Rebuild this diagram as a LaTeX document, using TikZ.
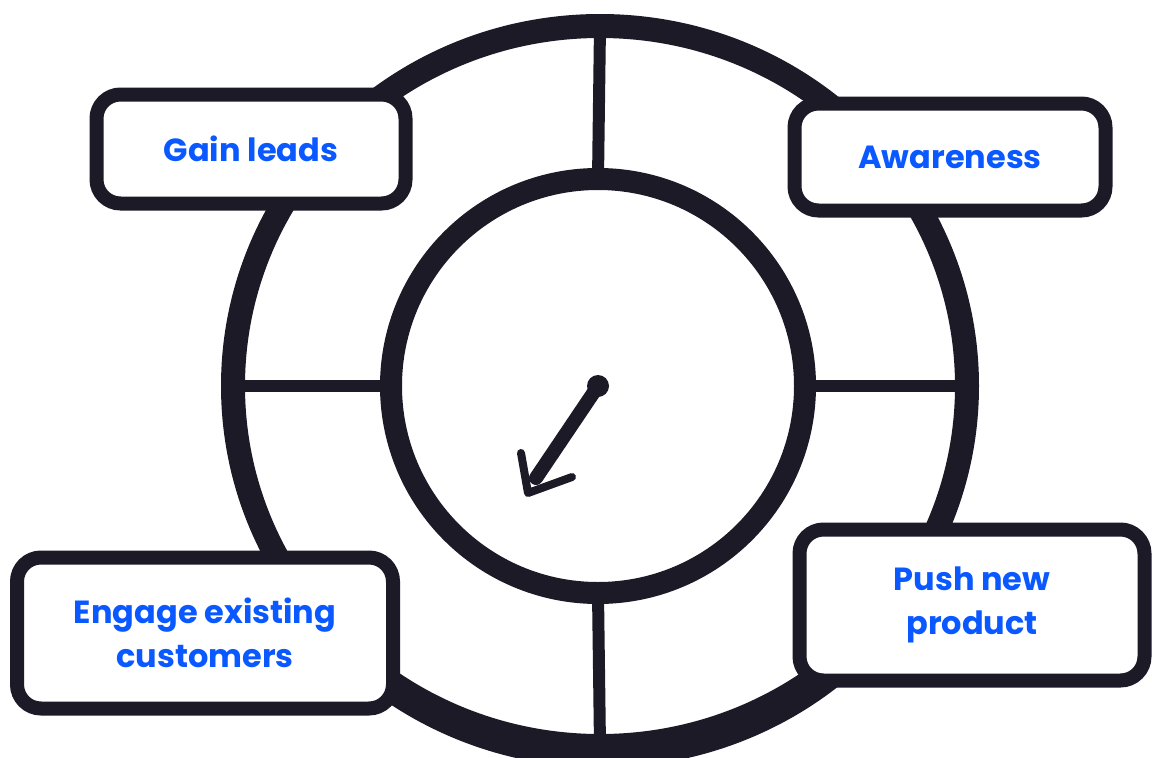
\documentclass[tikz,border=0pt]{standalone}
\usepackage{fontspec}
\setmainfont{Poppins}
\usetikzlibrary{shapes.geometric}
\definecolor{ink}{HTML}{1B1A26}
\definecolor{label}{HTML}{0A58FF}
\begin{document}
\begin{tikzpicture}[x=1pt,y=-1pt,
  ring/.style={draw=ink, line width=#1, inner sep=0pt, outer sep=0pt},
  spoke/.style={draw=ink, line width=12pt},
  stage/.style={draw=ink, fill=white, line width=14pt, rounded corners=24pt,
    inner sep=0pt, outer sep=0pt, text=label, align=center,
    font=\fontsize{32}{44}\selectfont\bfseries},
  pointer/.style={draw=ink, line cap=round, line join=round}
]
\useasboundingbox (0,0) rectangle (1152,758);

% wheel: outer rim and inner hub ring
\node[ring=24pt, ellipse, minimum width=734pt, minimum height=720pt] (outer) at (600,386) {};
\node[ring=22pt, circle, minimum size=414pt] (inner) at (598,386) {};
% second pass of the brush, a little lower, thickens the bottom of the rim
\node[ellipse, inner sep=0pt, outer sep=0pt, minimum width=734pt, minimum height=720pt] (lowrim) at (600,393) {};
\draw[ink, line width=24pt] (lowrim.215) arc[start angle=215, end angle=325, x radius=367pt, y radius=360pt];

% four spokes between the rings
\draw[spoke] (outer.north) -- (inner.north);
\draw[spoke] (inner.south) -- (outer.south);
\draw[spoke] (outer.west) -- (inner.west);
\draw[spoke] (inner.east) -- (outer.east);

% clock hand
\node[circle, fill=ink, minimum size=22pt, inner sep=0pt] (hub) at (598,386) {};
\coordinate (shaftend) at (536,478);
\coordinate (tip) at (528,493);
\coordinate (headL) at (521,453);
\coordinate (headR) at (572,477);
\draw[pointer, line width=14pt] (hub.center) -- (shaftend);
\draw[pointer, line width=8pt] (headL) -- (tip) -- (headR);

% stage labels
\node[stage, minimum width=309pt, minimum height=109pt] (gain) at (251,149) {Gain leads};
\node[stage, minimum width=311pt, minimum height=107pt] (aware) at (950,157) {Awareness};
\node[stage, minimum width=376pt, minimum height=151pt] (engage) at (205,633) {Engage existing\\customers};
\node[stage, minimum width=345pt, minimum height=151pt] (push) at (972,605) {Push new\\product};
\end{tikzpicture}
\end{document}
